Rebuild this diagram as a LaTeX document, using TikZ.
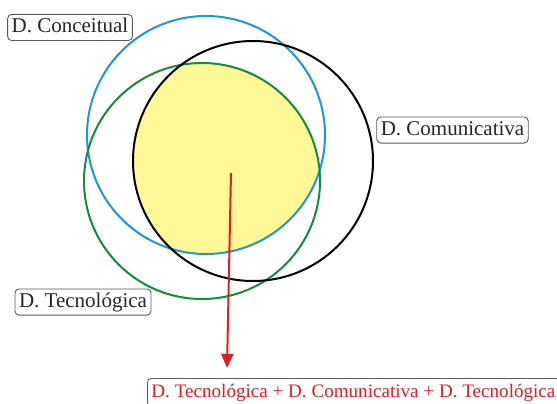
\documentclass[tikz,border=0pt]{standalone}
\usepackage{fontspec}
\setmainfont{Liberation Serif}
\usetikzlibrary{arrows.meta}
\definecolor{cblue}{RGB}{28,150,222}
\definecolor{cgreen}{RGB}{22,140,58}
\definecolor{cyel}{RGB}{255,248,150}
\definecolor{cred}{RGB}{222,32,36}
\definecolor{cgray}{RGB}{90,90,90}
\tikzset{
  lab/.style={draw=cgray, line width=0.9pt, rounded corners=4pt, fill=white,
    inner xsep=4pt, inner ysep=3.3pt, text height=15pt, text depth=4.5pt,
    font=\fontsize{21}{24}\selectfont, text=black!85},
  redlab/.style={lab, text=cred, font=\fontsize{19.1}{22}\selectfont,
    text height=16pt, text depth=6pt, inner ysep=3pt},
  ring/.style={line width=2pt},
}
\begin{document}
\begin{tikzpicture}[x=1pt,y=-1pt]
\useasboundingbox (0,0) rectangle (557,404);
\clip (0,0) rectangle (557,404);
% intersection fill
\begin{scope}
  \clip (206,135) circle[radius=119];
  \clip (253,161) circle[radius=120];
  \fill[cyel] (202,181) circle[radius=118];
\end{scope}
\draw[ring, cblue] (206,135) circle[radius=119];
\draw[ring, cgreen] (202,181) circle[radius=118];
\draw[ring, black] (253,161) circle[radius=120];
% labels
\node[lab] (conc) at (70,27.5) {D. Conceitual};
\node[lab] (comu) at (452.5,130) {D. Comunicativa};
\node[lab] (tecn) at (83,302) {D. Tecnológica};
\node[redlab, anchor=north west] (soma) at (147,378) {D. Tecnológica + D. Comunicativa + D. Tecnológica};
% arrow
\coordinate (start) at (231,173);
\coordinate (tip) at (227,368);
\draw[cred, line width=2pt, -{Triangle[length=14pt,width=12pt]}] (start) -- (tip);
\end{tikzpicture}
\end{document}
